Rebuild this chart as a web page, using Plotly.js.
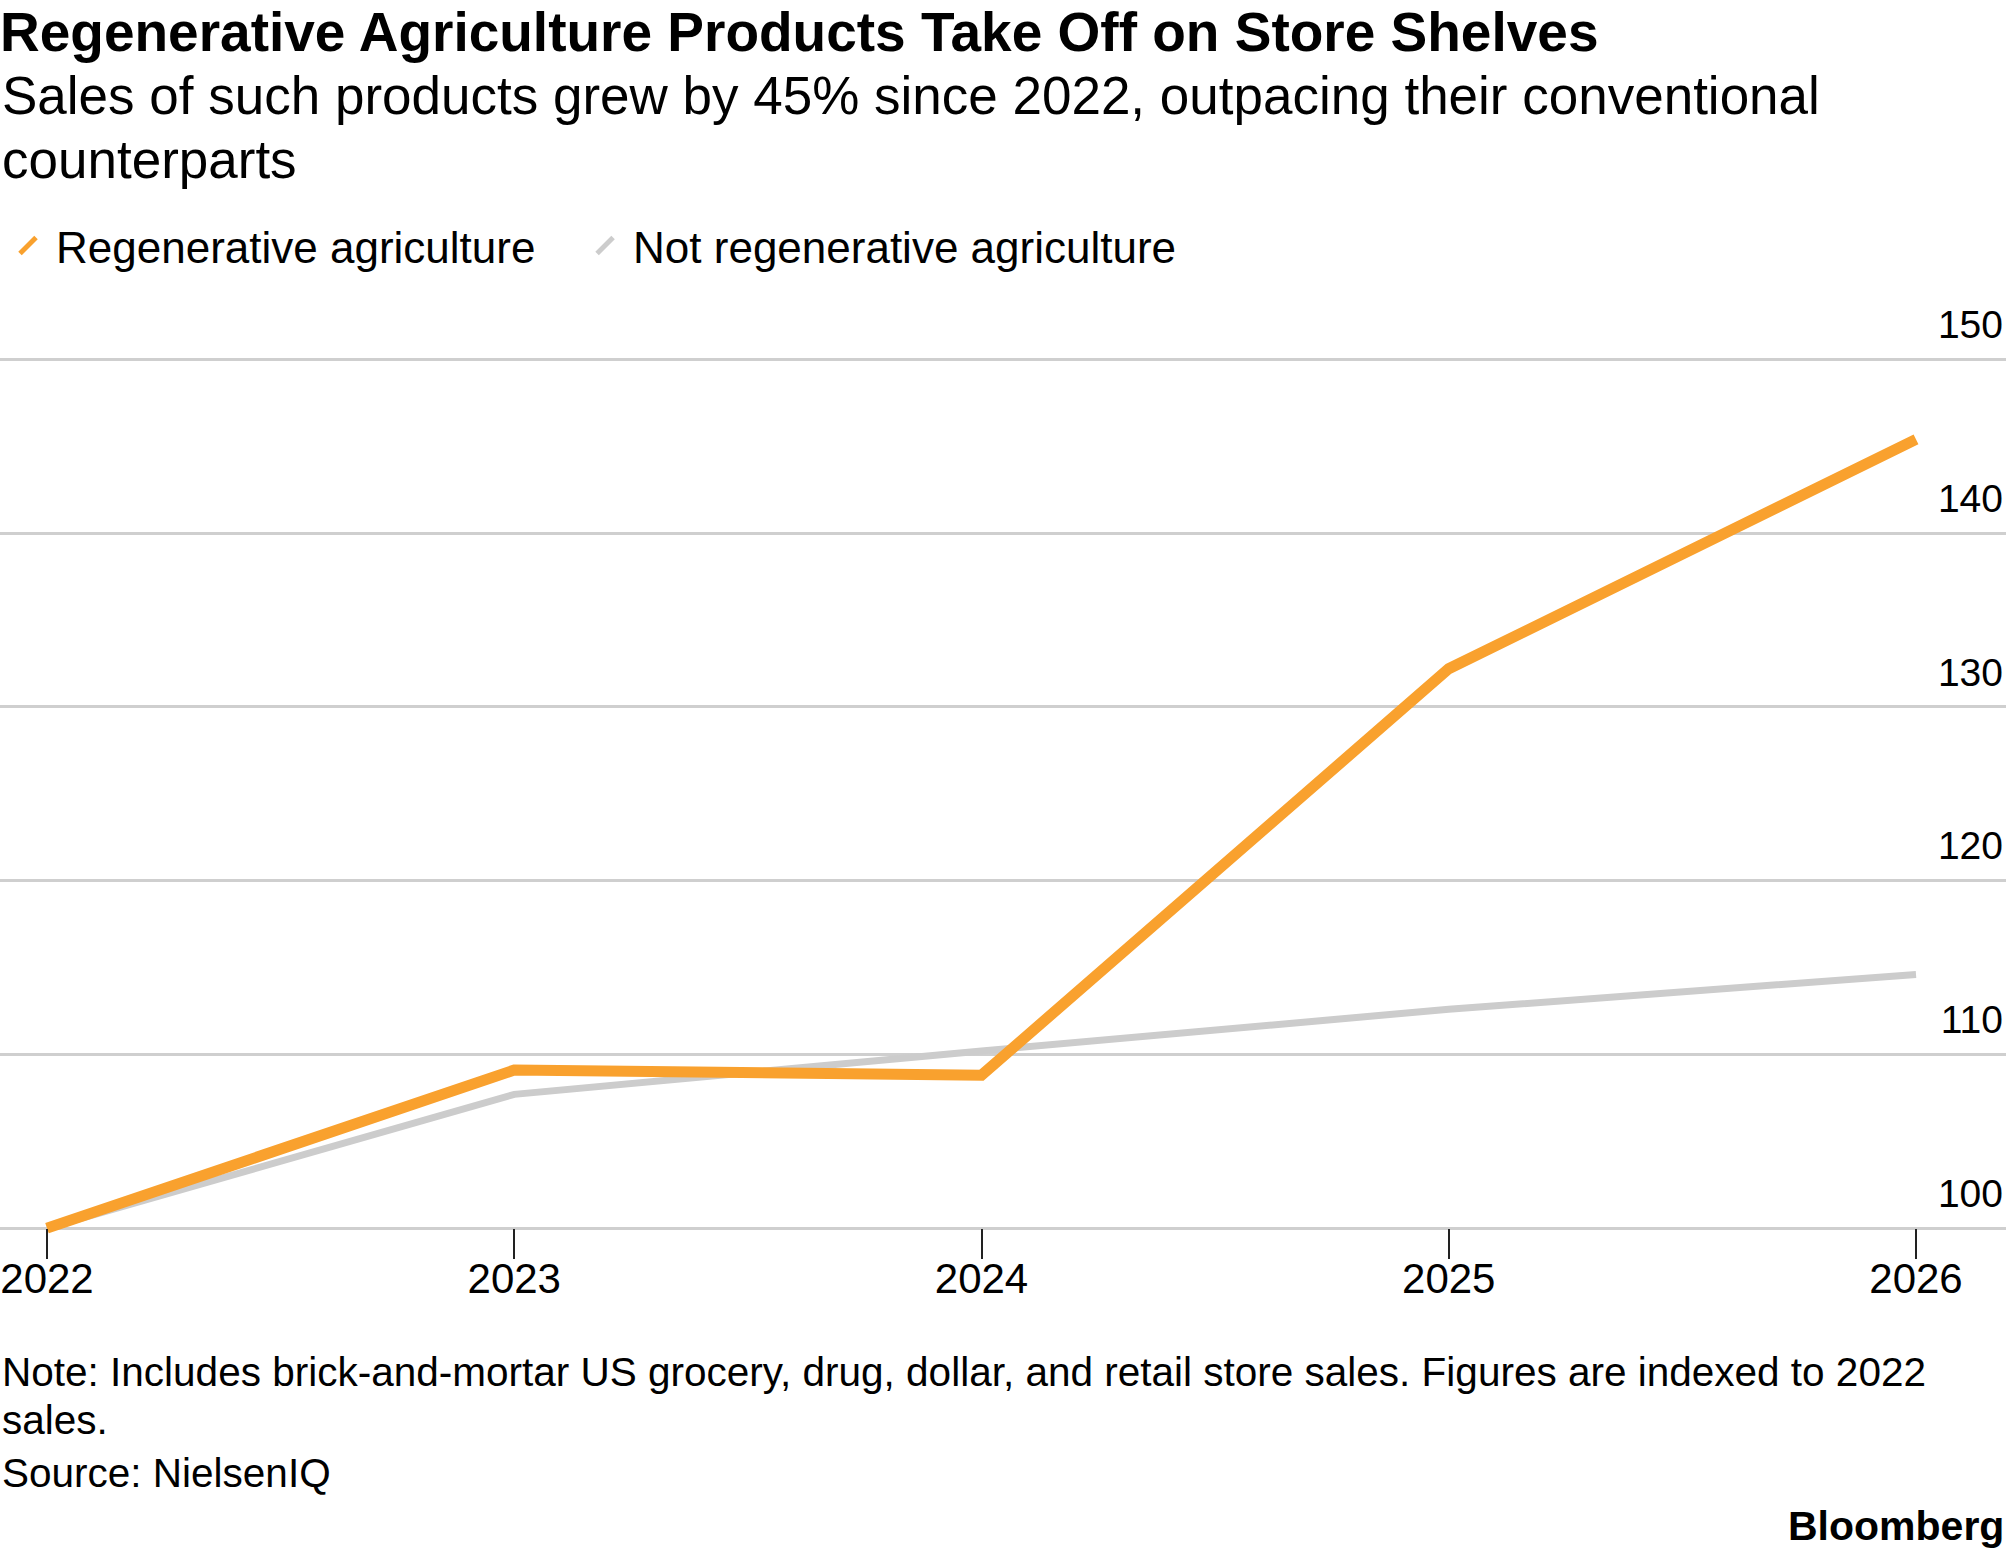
<!DOCTYPE html>
<html>
<head>
<meta charset="utf-8">
<script src="https://cdn.plot.ly/plotly-3.0.1.min.js"></script>
<style>
  html, body { margin: 0; padding: 0; background: #fff; }
  #chart { width: 2006px; height: 1557px; }
</style>
</head>
<body>
<div id="chart"></div>
<script>
// data (index, 2022 = 100)
const years = [2022, 2023, 2024, 2025, 2026];
const regenerative = [100, 109.1, 108.8, 132.2, 145.4];
const notRegenerative = [100, 107.7, 110.2, 112.6, 114.6];
const seriesNames = ["Regenerative agriculture", "Not regenerative agriculture"];
const yTicks = [100, 110, 120, 130, 140, 150];

const ORANGE = "#F9A12E";
const GREY = "#CCCCCC";
const FONT = "Liberation Sans, Arial, sans-serif";
const NBSP = "\u00A0";

// plot area in px: top 281, bottom 1249 -> helper for paper y
const paperY = (px) => (1249 - px) / 968;

const traces = [
  {
    x: years,
    y: notRegenerative,
    type: "scatter",
    mode: "lines",
    line: { color: GREY, width: 7 },
    showlegend: false,
    hoverinfo: "skip",
  },
  {
    x: years,
    y: regenerative,
    type: "scatter",
    mode: "lines",
    line: { color: ORANGE, width: 11 },
    showlegend: false,
    hoverinfo: "skip",
  },
  // legend keys only (slanted stroke like the original)
  {
    x: [null],
    y: [null],
    name: seriesNames[0] + NBSP.repeat(3),
    type: "scatter",
    mode: "markers",
    marker: { symbol: "line-ne", size: 16, color: ORANGE, line: { color: ORANGE, width: 5 } },
  },
  {
    x: [null],
    y: [null],
    name: seriesNames[1],
    type: "scatter",
    mode: "markers",
    marker: { symbol: "line-ne", size: 16, color: GREY, line: { color: GREY, width: 5 } },
  },
];

function note(text, px, size) {
  return {
    text: text,
    xref: "paper", yref: "paper",
    x: 0, y: paperY(px),
    xanchor: "left", yanchor: "middle",
    align: "left",
    showarrow: false,
    font: { size: size, color: "#000" },
  };
}

const layout = {
  width: 2006,
  height: 1557,
  margin: { l: 0, r: 0, t: 281, b: 308, autoexpand: false },
  paper_bgcolor: "#fff",
  plot_bgcolor: "#fff",
  font: { family: FONT, color: "#000" },
  title: {
    text: "<b>Regenerative Agriculture Products Take Off on Store Shelves</b>",
    font: { size: 55, color: "#000" },
    xref: "container",
    x: 0,
    xanchor: "left",
    yref: "container",
    y: 1 - 32 / 1557,
    yanchor: "middle",
  },
  legend: {
    orientation: "h",
    xref: "container",
    x: 0,
    xanchor: "left",
    yref: "container",
    y: 1 - 246 / 1557,
    yanchor: "middle",
    font: { size: 44, color: "#000" },
    itemwidth: 46,
    bgcolor: "rgba(0,0,0,0)",
  },
  xaxis: {
    range: [2021.8994, 2026.1926],
    tickvals: years,
    ticktext: years.map(String),
    ticks: "outside",
    ticklen: 30,
    tickwidth: 2,
    tickcolor: "#222",
    tickfont: { size: 42, color: "#000" },
    ticklabelstandoff: -17,
    showgrid: false,
    zeroline: false,
    showline: false,
    anchor: "free",
    position: 1.2 / 55.715,
    fixedrange: true,
  },
  yaxis: {
    range: [98.8, 154.515],
    side: "right",
    tickvals: yTicks,
    ticktext: yTicks.map(String),
    ticklabelposition: "inside",
    ticklabelshift: -35,
    ticks: "",
    tickfont: { size: 39, color: "#000" },
    showgrid: true,
    gridcolor: "#CFCFCF",
    gridwidth: 3,
    zeroline: false,
    showline: false,
    fixedrange: true,
  },
  annotations: [
    note("Sales of such products grew by 45% since 2022, outpacing their conventional", 95, 53),
    note("counterparts", 159, 53),
    note("Note: Includes brick-and-mortar US grocery, drug, dollar, and retail store sales. Figures are indexed to 2022", 1372, 40.5),
    note("sales.", 1420, 40.5),
    note("Source: NielsenIQ", 1473, 40.5),
    {
      text: "<b>Bloomberg</b>",
      xref: "paper", yref: "paper",
      x: 1, y: paperY(1526),
      xanchor: "right", yanchor: "middle",
      showarrow: false,
      font: { size: 41, color: "#000" },
    },
  ],
};

Plotly.newPlot("chart", traces, layout, { displayModeBar: false, staticPlot: true });
</script>
</body>
</html>
